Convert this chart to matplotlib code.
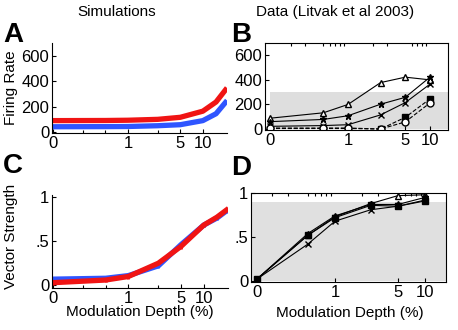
import matplotlib
matplotlib.use("Agg")
import matplotlib.pyplot as plt
from matplotlib.ticker import FixedLocator, NullFormatter, LogLocator

plt.rcParams['font.family'] = ['Liberation Sans', 'DejaVu Sans']
plt.rcParams['font.size'] = 11

# simulations (panels A and C)
sim_depth = [0, 0.5, 1, 2.5, 5, 10, 15, 20]
sim_rate_red = [92, 93, 95, 102, 118, 166, 238, 332]
sim_rate_blue = [44, 45, 46, 52, 60, 92, 146, 234]
sim_vs_red = [0.03, 0.06, 0.10, 0.25, 0.44, 0.68, 0.77, 0.85]
sim_vs_blue = [0.07, 0.08, 0.11, 0.22, 0.46, 0.68, 0.76, 0.84]

# Litvak et al 2003 data (panels B and D)
data_depth = [0, 0.5, 1, 2.5, 5, 10]
rate_tri = [88, 132, 200, 378, 422, 400]
rate_star = [60, 78, 108, 202, 258, 422]
rate_x = [22, 28, 35, 115, 215, 365]
rate_sq = [4, 4, 4, 0, 95, 245]
rate_circ = [8, 8, 8, 0, 58, 212]
vs_tri = [0.02, 0.52, 0.73, 0.88, 0.97, 0.98]
vs_star = [0.02, 0.54, 0.74, 0.87, 0.87, 0.95]
vs_x = [0.02, 0.42, 0.68, 0.81, 0.85, 0.92]
vs_sq = [0.02, 0.52, 0.72, 0.86, 0.85, 0.91]

tick_vals = [0, 1, 5, 10]
tick_text = ['0', '1', '5', '10']

RED = '#f01414'
BLUE = '#2f55ff'


def xpos(vals, zero):
    # log axis: the "0" depth is drawn at a stand-in position
    return [zero if v == 0 else v for v in vals]


def setup_x(ax, zero, xlim, box):
    ax.set_xscale('log')
    ax.set_xlim(*xlim)
    ax.xaxis.set_major_locator(FixedLocator(xpos(tick_vals, zero)))
    ax.set_xticklabels(tick_text)
    ax.tick_params(which='both', direction='in', length=3, width=0.8, pad=2,
                   labelsize=12)
    ax.tick_params(which='minor', length=2)
    if box:
        ax.xaxis.set_minor_locator(LogLocator(subs=[2, 3, 5, 6, 7, 8, 9]))
        ax.xaxis.set_minor_formatter(NullFormatter())
        ax.tick_params(which='minor', bottom=False, top=True)
        ax.tick_params(which='major', top=False)
    else:
        ax.xaxis.set_minor_locator(FixedLocator([0.25, 0.5, 2.5]))
        ax.xaxis.set_minor_formatter(NullFormatter())
        for s in ['top', 'right']:
            ax.spines[s].set_visible(False)


fig = plt.figure(figsize=(4.58, 3.30), dpi=100)
W, H = 458.0, 330.0


def add_ax(l, t, r, b):
    return fig.add_axes([l / W, 1 - b / H, (r - l) / W, (b - t) / H])


# ---- A: simulated firing rate
axA = add_ax(52, 43, 227, 133)
axA.plot(xpos(sim_depth, 0.1), sim_rate_red, color=RED, lw=3.8)
axA.plot(xpos(sim_depth, 0.1), sim_rate_blue, color=BLUE, lw=3.8)
axA.set_ylim(-5, 700)
axA.set_yticks([0, 200, 400, 600])
setup_x(axA, 0.1, (0.097, 21), box=False)

# ---- B: data firing rate
axB = add_ax(265, 43, 448, 130)
zB = 0.112
axB.axhspan(0, 300, xmin=0.03, xmax=1, color='#dedede', lw=0, zorder=0)
kw = dict(color='black', lw=0.8, ms=5)
axB.plot(xpos(data_depth, zB), rate_tri, marker='^', mfc='white', **kw)
axB.plot(xpos(data_depth, zB), rate_star, marker='*', **kw)
axB.plot(xpos(data_depth, zB), rate_x, marker='x', **kw)
axB.plot(xpos(data_depth, zB), rate_sq, marker='s', ls='--', **kw)
axB.plot(xpos(data_depth, zB), rate_circ, marker='o', mfc='white', ls='--', **kw)
axB.set_ylim(-8, 700)
axB.set_yticks([0, 200, 400, 600])
setup_x(axB, zB, (0.097, 16.6), box=True)

# ---- C: simulated vector strength
axC = add_ax(52, 195, 228, 288)
axC.errorbar(xpos(sim_depth, 0.1), sim_vs_blue, yerr=0.025, color=BLUE, lw=3.8,
             capsize=0, elinewidth=2)
axC.errorbar(xpos(sim_depth, 0.1), sim_vs_red, yerr=0.025, color=RED, lw=3.8,
             capsize=0, elinewidth=2)
axC.set_ylim(-0.03, 1.02)
axC.set_yticks([0, 0.5, 1])
axC.set_yticklabels(['0', '.5', '1'])
setup_x(axC, 0.1, (0.097, 21), box=False)

# ---- D: data vector strength
axD = add_ax(251, 193, 446, 282)
zD = 0.135
axD.axhspan(0, 0.9, color='#e0e0e0', lw=0, zorder=0)
axD.plot(xpos(data_depth, zD), vs_tri, marker='^', mfc='white', **kw)
axD.plot(xpos(data_depth, zD), vs_star, marker='*', **kw)
axD.plot(xpos(data_depth, zD), vs_x, marker='x', **kw)
axD.plot(xpos(data_depth, zD), vs_sq, marker='s', **kw)
axD.set_ylim(-0.01, 1.0)
axD.set_yticks([0, 0.5, 1])
axD.set_yticklabels(['0', '.5', '1'])
setup_x(axD, zD, (0.117, 17.1), box=True)

# titles, labels and panel letters
fig.text(117 / W, 1 - 12 / H, 'Simulations', ha='center', va='center')
fig.text(335 / W, 1 - 12 / H, 'Data (Litvak et al 2003)', ha='center', va='center')
fig.text(11 / W, 1 - 88 / H, 'Firing Rate', rotation=90, ha='center', va='center')
fig.text(11 / W, 1 - 236 / H, 'Vector Strength', rotation=90, ha='center', va='center')
fig.text(140 / W, 1 - 312 / H, 'Modulation Depth (%)', ha='center', va='center')
fig.text(350 / W, 1 - 313 / H, 'Modulation Depth (%)', ha='center', va='center')
for letter, x, y in [('A', 3, 35), ('B', 231, 35), ('C', 3, 166), ('D', 231, 168)]:
    fig.text(x / W, 1 - y / H, letter, fontsize=20, fontweight='bold', va='center')

fig.savefig('out.png', dpi=100)
